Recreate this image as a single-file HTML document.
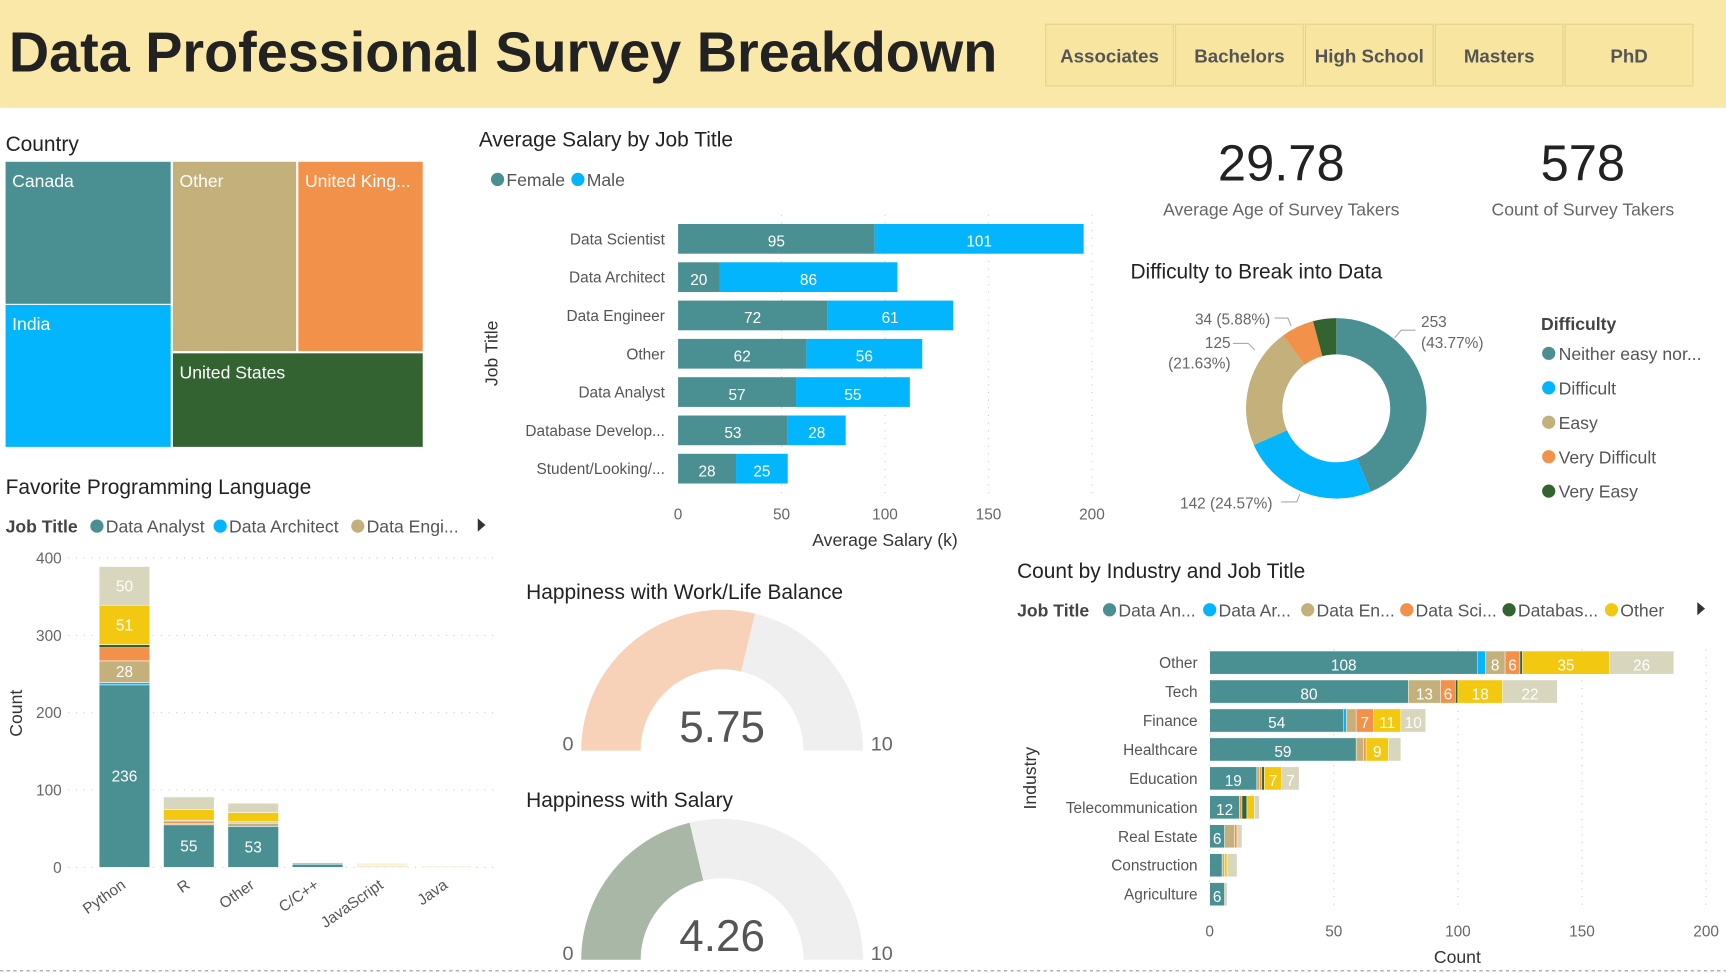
<!DOCTYPE html>
<html><head><meta charset="utf-8">
<style>
html,body{margin:0;padding:0;background:#fff;width:1726px;height:973px;overflow:hidden}
svg{display:block;font-family:"Liberation Sans","DejaVu Sans",sans-serif}
</style></head>
<body>
<svg id="dash" width="1726" height="973" viewBox="0 0 1568 884" xmlns="http://www.w3.org/2000/svg">
<rect x="0" y="0" width="1568" height="98" fill="#f9e8a7"/>
<text x="8" y="65" font-size="51" font-weight="bold" fill="#222" textLength="898" lengthAdjust="spacingAndGlyphs">Data Professional Survey Breakdown</text>
<g id="slicer"></g>
<g id="treemap"></g>
<g id="lang"></g>
<g id="salary"></g>
<g id="kpi"></g>
<g id="donut"></g>
<g id="gauges"></g>
<g id="industry"></g>
<line x1="0" y1="882" x2="1568" y2="882" stroke="#999" stroke-dasharray="3,3"/>
</svg>
<script>
// ---- data ----
const educationLevels = ["Associates","Bachelors","High School","Masters","PhD"];
const countries = ["Canada","India","Other","United King...","United States"];
const langCategories = ["Python","R","Other","C/C++","JavaScript","Java"];
const langTicks = [0,100,200,300,400];
const langDA = [236,55,53,4,1,0];
const langDArch = [3,0,0,0,0,0];
const langDE = [28,2,4,0,1,0];
const langDSci = [17,3,1,0,1,0];
const langDB = [4,1,1,0,0,0];
const langOther = [51,14,12,2,1,1];
const langStudent = [50,16,12,0,1,1];
const jobTitles = ["Data Scientist","Data Architect","Data Engineer","Other","Data Analyst","Database Develop...","Student/Looking/..."];
const salaryFemale = [95,20,72,62,57,53,28];
const salaryMale = [101,86,61,56,55,28,25];
const salaryTicks = [0,50,100,150,200];
const avgAge = "29.78";
const countTakers = "578";
const difficultyLabels = ["Neither easy nor...","Difficult","Easy","Very Difficult","Very Easy"];
const difficultyValues = [253,142,125,34,24];
const happyWork = 5.75;
const happySalary = 4.26;
const industries = ["Other","Tech","Finance","Healthcare","Education","Telecommunication","Real Estate","Construction","Agriculture"];
const indDA = [108,80,54,59,19,12,6,5,6];
const indDArch = [3,0,1,0,0,0,0,0,0];
const indDE = [8,13,4,3,1,0,4,1,0];
const indDSci = [6,6,7,1,1,1,1,0,0];
const indDB = [1,1,0,0,1,2,0,0,0];
const indOther = [35,18,11,9,7,3,0,1,0];
const indStudent = [26,22,10,5,7,2,2,4,1];
const indTicks = [0,50,100,150,200];

const C = {da:"#4a9093",dar:"#02b5fd",de:"#c4b07b",ds:"#f2914a",db:"#336331",ot:"#f2c811",st:"#d8d6bd"};
const NS="http://www.w3.org/2000/svg";
function mk(parent,tag,attrs,text){const e=document.createElementNS(NS,tag);for(const k in attrs)e.setAttribute(k,attrs[k]);if(text!==undefined)e.textContent=text;parent.appendChild(e);return e;}
const G=id=>document.getElementById(id);

// ---- slicer ----
(function(){const g=G("slicer");
educationLevels.forEach((t,i)=>{const x=950+i*118;
 const r=mk(g,"rect",{x:x,y:22,width:116,height:56,fill:"#f8e6a0",stroke:"#e3d28e"});
 
 
 const tx=mk(g,"text",{x:x+58,y:57,"text-anchor":"middle","font-size":17,"font-weight":"bold",fill:"#555"},t);
 
 
});})();

// ---- treemap ----
(function(){const g=G("treemap");
const t=mk(g,"text",{x:5,y:137,"font-size":19,fill:"#222"},"Country");

const cells=[[5,147,150,129,C.da],[5,277,150,129,C.dar],[157,147,112,172,C.de],[271,147,113,172,C.ds],[157,321,227,85,C.db]];
cells.forEach((c,i)=>{const r=mk(g,"rect",{x:c[0],y:c[1],width:c[2],height:c[3],fill:c[4]});
 
 const tx=mk(g,"text",{x:c[0]+6,y:c[1]+23,"font-size":16,fill:"#fff"},countries[i]);
 });
})();

// ---- language chart ----
(function(){const g=G("lang");
let e=mk(g,"text",{x:5,y:449,"font-size":19,fill:"#222"},"Favorite Programming Language");

e=mk(g,"text",{x:5,y:484,"font-size":16,"font-weight":"bold",fill:"#444"},"Job Title");

[["Data Analyst",C.da,88],["Data Architect",C.dar,200],["Data Engi...",C.de,325]].forEach(l=>{
 const c=mk(g,"circle",{cx:l[2],cy:478,r:6,fill:l[1]});
 const t=mk(g,"text",{x:l[2]+8,y:484,"font-size":16,fill:"#555"},l[0]);});
e=mk(g,"path",{d:"M434 471 L441 477 L434 483 Z",fill:"#333"});
const y=v=>788-v*0.7025, x0=113, step=58.5, bw=46;
langTicks.forEach(t=>{const l=mk(g,"line",{x1:62,x2:452,y1:y(t),y2:y(t),stroke:"#ccc","stroke-dasharray":"1,6"});
 
 const tx=mk(g,"text",{x:56,y:y(t)+5,"text-anchor":"end","font-size":14,fill:"#666"},t);
 });
e=mk(g,"text",{x:0,y:0,"font-size":16,fill:"#333",transform:"translate(20,648) rotate(-90)","text-anchor":"middle"},"Count");

const series=[[langDA,C.da,true],[langDArch,C.dar],[langDE,C.de,true],[langDSci,C.ds],[langDB,C.db],[langOther,C.ot,true],[langStudent,C.st,true]];
langCategories.forEach((cat,i)=>{const cx=x0+i*step;let acc=0;
 series.forEach(s=>{const v=s[0][i];if(v<=0)return;
  const r=mk(g,"rect",{x:cx-bw/2,y:y(acc+v),width:bw,height:v*0.7025,fill:s[1],stroke:"#fff","stroke-width":0.5});
  
  if(s[2]&&v>=20){const t=mk(g,"text",{x:cx,y:y(acc+v/2)+5,"text-anchor":"middle","font-size":14,fill:"#fff"},v);}
  acc+=v;});
 const t=mk(g,"text",{x:0,y:0,"font-size":14,fill:"#555","text-anchor":"end",transform:`translate(${cx+2},${806}) rotate(-35)`},cat);
 });
})();

// ---- salary chart ----
(function(){const g=G("salary");
let e=mk(g,"text",{x:435,y:133,"font-size":19,fill:"#222"},"Average Salary by Job Title");

[["Female",C.da,452],["Male",C.dar,525]].forEach(l=>{const c=mk(g,"circle",{cx:l[2],cy:163,r:6,fill:l[1]});
 const t=mk(g,"text",{x:l[2]+8,y:169,"font-size":16,fill:"#555"},l[0]);});
const x=v=>616+v*1.88;
salaryTicks.forEach(t=>{if(t>0){const l=mk(g,"line",{x1:x(t),x2:x(t),y1:195,y2:450,stroke:"#ccc","stroke-dasharray":"1,6"});}
 const tx=mk(g,"text",{x:x(t),y:472,"text-anchor":"middle","font-size":14,fill:"#666"},t);});
e=mk(g,"text",{x:804,y:496,"text-anchor":"middle","font-size":16,fill:"#333"},"Average Salary (k)");
e=mk(g,"text",{x:0,y:0,"font-size":16,fill:"#333","text-anchor":"middle",transform:"translate(452,321) rotate(-90)"},"Job Title");
jobTitles.forEach((j,i)=>{const cy=217+i*34.8;
 let t=mk(g,"text",{x:604,y:cy+5,"text-anchor":"end","font-size":14,fill:"#555"},j);
 const f=salaryFemale[i],m=salaryMale[i];
 let r=mk(g,"rect",{x:x(0),y:cy-13.5,width:f*1.88,height:27,fill:C.da});
 r=mk(g,"rect",{x:x(f),y:cy-13.5,width:m*1.88,height:27,fill:C.dar});
 t=mk(g,"text",{x:x(f/2),y:cy+7,"text-anchor":"middle","font-size":14,fill:"#fff"},f);
 t=mk(g,"text",{x:x(f+m/2),y:cy+7,"text-anchor":"middle","font-size":14,fill:"#fff"},m);});
})();

// ---- KPI ----
(function(){const g=G("kpi");
[[1164,avgAge,"Average Age of Survey Takers"],[1438,countTakers,"Count of Survey Takers"]].forEach(k=>{
 let t=mk(g,"text",{x:k[0],y:164,"text-anchor":"middle","font-size":46,fill:"#222"},k[1]);
 t=mk(g,"text",{x:k[0],y:196,"text-anchor":"middle","font-size":16,fill:"#666"},k[2]);});
})();

// ---- donut ----
(function(){const g=G("donut");
let e=mk(g,"text",{x:1027,y:253,"font-size":19,fill:"#222"},"Difficulty to Break into Data");
const cx=1214,cy=371,R=82,r=49,cols=[C.da,C.dar,C.de,C.ds,C.db];
const total=difficultyValues.reduce((a,b)=>a+b,0);let a0=0;
difficultyValues.forEach((v,i)=>{const a1=a0+v/total*2*Math.PI;
 const p=(a,rr)=>[cx+rr*Math.sin(a),cy-rr*Math.cos(a)];const lg=(a1-a0)>Math.PI?1:0;
 const [x1,y1]=p(a0,R),[x2,y2]=p(a1,R),[x3,y3]=p(a1,r),[x4,y4]=p(a0,r);
 const s=mk(g,"path",{d:`M${x1} ${y1} A${R} ${R} 0 ${lg} 1 ${x2} ${y2} L${x3} ${y3} A${r} ${r} 0 ${lg} 0 ${x4} ${y4} Z`,fill:cols[i]});
 a0=a1;});
const pct=v=>(v/total*100).toFixed(2)+"%";
const labs=[[1291,297,"start",difficultyValues[0]+""],[1291,316,"start","("+pct(difficultyValues[0])+")"],[1156,462,"end",difficultyValues[1]+" ("+pct(difficultyValues[1])+")"],[1118,316,"end",difficultyValues[2]+""],[1118,335,"end","("+pct(difficultyValues[2])+")"],[1154,295,"end",difficultyValues[3]+" ("+pct(difficultyValues[3])+")"]];
labs.forEach(l=>{const t=mk(g,"text",{x:l[0],y:l[1],"text-anchor":l[2],"font-size":14,fill:"#666"},l[3]);});
[[1267,307,1273,300,1286,300],[1164,456,1178,456,1181,449],[1120,312,1134,312,1140,318],[1158,289,1170,289,1173,296]].forEach(p=>{const l=mk(g,"polyline",{points:`${p[0]},${p[1]} ${p[2]},${p[3]} ${p[4]},${p[5]}`,fill:"none",stroke:"#aaa"});});
e=mk(g,"text",{x:1400,y:300,"font-size":16,"font-weight":"bold",fill:"#444"},"Difficulty");
difficultyLabels.forEach((d,i)=>{const yy=321+i*31.3;const c=mk(g,"circle",{cx:1407,cy:yy,r:6,fill:cols[i]});
 const t=mk(g,"text",{x:1416,y:yy+6,"font-size":16,fill:"#555"},d);});
})();

// ---- gauges ----
(function(){const g=G("gauges");
[[538,"Happiness with Work/Life Balance",682,happyWork,"#f8d1b9"],[727,"Happiness with Salary",872,happySalary,"#a9b7a7"]].forEach(q=>{
 let t=mk(g,"text",{x:478,y:q[0]+6,"font-size":19,fill:"#222"},q[1]);
 const cx=656,cy=q[2],R=128,r=74;
 const arc=(a0,a1,col,nm)=>{const p=(a,rr)=>[cx-rr*Math.cos(a),cy-rr*Math.sin(a)];
  const [x1,y1]=p(a0,R),[x2,y2]=p(a1,R),[x3,y3]=p(a1,r),[x4,y4]=p(a0,r);
  const s=mk(g,"path",{d:`M${x1} ${y1} A${R} ${R} 0 0 1 ${x2} ${y2} L${x3} ${y3} A${r} ${r} 0 0 0 ${x4} ${y4} Z`,fill:col});
  };
 const av=q[3]/10*Math.PI;arc(0,av,q[4],'gauge-fill');arc(av,Math.PI,"#efefef",'gauge-track');
 t=mk(g,"text",{x:cx,y:cy-8,"text-anchor":"middle","font-size":40,fill:"#555"},q[3].toFixed(2));
 t=mk(g,"text",{x:516,y:cy+0,"text-anchor":"middle","font-size":18,fill:"#666"},"0");
 t=mk(g,"text",{x:801,y:cy+0,"text-anchor":"middle","font-size":18,fill:"#666"},"10");});
})();

// ---- industry ----
(function(){const g=G("industry");
let e=mk(g,"text",{x:924,y:525,"font-size":19,fill:"#222"},"Count by Industry and Job Title");
e=mk(g,"text",{x:924,y:560,"font-size":16,"font-weight":"bold",fill:"#444"},"Job Title");
[["Data An...",C.da,1008],["Data Ar...",C.dar,1099],["Data En...",C.de,1188],["Data Sci...",C.ds,1278],["Databas...",C.db,1371],["Other",C.ot,1464]].forEach(l=>{
 const c=mk(g,"circle",{cx:l[2],cy:554,r:6,fill:l[1]});
 const t=mk(g,"text",{x:l[2]+8,y:560,"font-size":16,fill:"#555"},l[0]);});
e=mk(g,"path",{d:"M1542 547 L1549 553 L1542 559 Z",fill:"#333"});
const x=v=>1099+v*2.255;
indTicks.forEach(t=>{const l=mk(g,"line",{x1:x(t),x2:x(t),y1:590,y2:828,stroke:"#ccc","stroke-dasharray":"1,6"});
 const tx=mk(g,"text",{x:x(t),y:851,"text-anchor":"middle","font-size":14,fill:"#666"},t);});
e=mk(g,"text",{x:1324,y:875,"text-anchor":"middle","font-size":16,fill:"#333"},"Count");
e=mk(g,"text",{x:0,y:0,"font-size":16,fill:"#333","text-anchor":"middle",transform:"translate(941,707) rotate(-90)"},"Industry");
const series=[[indDA,C.da],[indDArch,C.dar],[indDE,C.de],[indDSci,C.ds],[indDB,C.db],[indOther,C.ot],[indStudent,C.st]];
industries.forEach((ind,i)=>{const cy=602+i*26.3;let acc=0;
 let t=mk(g,"text",{x:1088,y:cy+5,"text-anchor":"end","font-size":14,fill:"#555"},ind);
 series.forEach(s=>{const v=s[0][i];if(v<=0)return;
  const r=mk(g,"rect",{x:x(acc),y:cy-10.5,width:v*2.255,height:21,fill:s[1],stroke:"#fff","stroke-width":0.4});
  
  if(v>=6&&(v>=7||s[1]===C.ds||s[1]===C.da)){const tt=mk(g,"text",{x:x(acc+v/2),y:cy+7,"text-anchor":"middle","font-size":14,fill:"#fff"},v);}
  acc+=v;});});
})();
</script>
</body></html>
